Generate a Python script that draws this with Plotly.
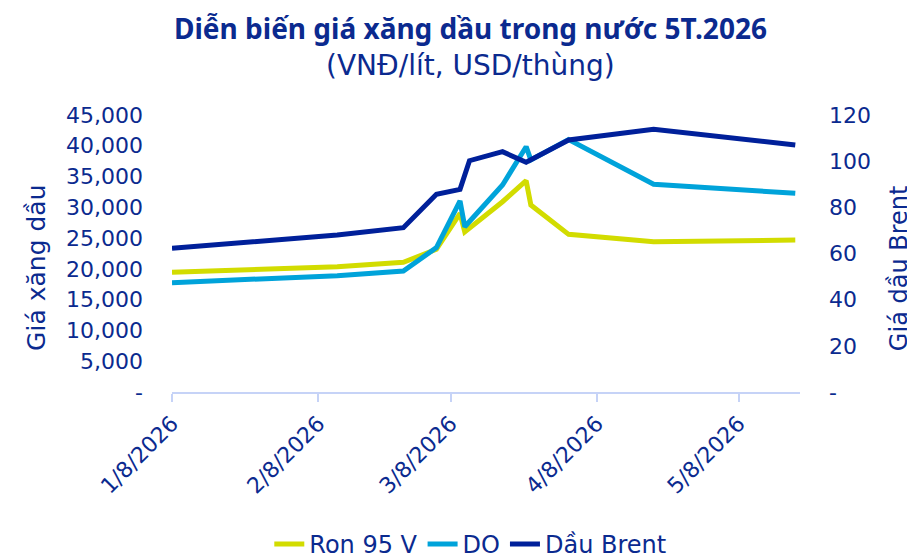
import plotly.graph_objects as go

# ---- data ----
ron_dates = ["2026-01-08", "2026-02-12", "2026-02-26", "2026-03-05", "2026-03-10", "2026-03-11",
             "2026-03-19", "2026-03-24", "2026-03-25", "2026-04-02", "2026-04-20", "2026-05-20"]
ron_values = [19450, 20360, 21070, 23180, 29000, 26000, 30910, 34330, 30380, 25610, 24420, 24690]

do_dates = ["2026-01-08", "2026-02-12", "2026-02-26", "2026-03-05", "2026-03-10", "2026-03-11",
            "2026-03-19", "2026-03-24", "2026-03-25", "2026-04-02", "2026-04-20", "2026-05-20"]
do_values = [17760, 18900, 19660, 23450, 31030, 26850, 33630, 39850, 37700, 41000, 33740, 32280]

brent_dates = ["2026-01-08", "2026-02-12", "2026-02-26", "2026-03-05", "2026-03-10", "2026-03-12",
               "2026-03-19", "2026-03-24", "2026-04-02", "2026-04-20", "2026-05-20"]
brent_values = [62.3, 68.0, 71.2, 85.7, 87.8, 100.2, 104.1, 99.5, 109.2, 113.8, 107.0]

x_tickvals = ["2026-01-08", "2026-02-08", "2026-03-08", "2026-04-08", "2026-05-08"]
x_ticktext = ["1/8/2026", "2/8/2026", "3/8/2026", "4/8/2026", "5/8/2026"]

y_tickvals = [0, 5000, 10000, 15000, 20000, 25000, 30000, 35000, 40000, 45000]
y_ticktext = ["-", "5,000", "10,000", "15,000", "20,000", "25,000", "30,000", "35,000", "40,000", "45,000"]

y2_tickvals = [0, 20, 40, 60, 80, 100, 120]
y2_ticktext = ["-", "20", "40", "60", "80", "100", "120"]

NAVY = "#0B2A8F"
C_RON = "#D2DC00"
C_DO = "#00A3DA"
C_BRENT = "#00209A"
FONT = "DejaVu Sans"
TFONT = "Noto Sans"

fig = go.Figure()
fig.add_trace(go.Scatter(x=ron_dates, y=ron_values, name="Ron 95 V", mode="lines",
                         line=dict(color=C_RON, width=5)))
fig.add_trace(go.Scatter(x=do_dates, y=do_values, name="DO", mode="lines",
                         line=dict(color=C_DO, width=5)))
fig.add_trace(go.Scatter(x=brent_dates, y=brent_values, name="Dầu Brent", mode="lines",
                         line=dict(color=C_BRENT, width=5), yaxis="y2"))

fig.update_layout(
    width=907, height=550,
    margin=dict(l=164, r=115, t=107, b=166, autoexpand=False),
    paper_bgcolor="white", plot_bgcolor="white",
    font=dict(family=FONT, color=NAVY, size=20),
    showlegend=True,
    legend=dict(orientation="h", x=0.475, xanchor="center", y=-0.55, yanchor="middle",
                font=dict(size=24, color=NAVY, family=FONT), traceorder="normal"),
    xaxis=dict(type="date", range=["2026-01-08", "2026-05-21"], automargin=False,
               tickvals=x_tickvals, ticktext=x_ticktext, tickangle=-45,
               showgrid=False, zeroline=False,
               showline=True, linecolor="#C6D3F7", linewidth=2,
               ticks="outside", tickcolor="#C6D3F7", ticklen=8, tickwidth=2,
               tickfont=dict(size=22, color=NAVY)),
    yaxis=dict(range=[0, 45000], tickvals=y_tickvals, ticktext=y_ticktext, automargin=False,
               showgrid=False, zeroline=False, showline=False,
               ticklabelstandoff=28, tickfont=dict(size=22, color=NAVY)),
    yaxis2=dict(range=[0, 120], tickvals=y2_tickvals, ticktext=y2_ticktext, automargin=False,
                overlaying="y", side="right",
                showgrid=False, zeroline=False, showline=False,
                ticklabelstandoff=28, tickfont=dict(size=22, color=NAVY)),
    annotations=[
        dict(text="<b>Diễn biến giá xăng dầu trong nước 5T.2026</b>", xref="paper", yref="paper",
             x=0.475, y=1.314, xanchor="center", yanchor="middle", showarrow=False,
             font=dict(size=28, color=NAVY, family=TFONT)),
        dict(text="(VNĐ/lít, USD/thùng)", xref="paper", yref="paper",
             x=0.475, y=1.177, xanchor="center", yanchor="middle", showarrow=False,
             font=dict(size=28, color=NAVY, family=FONT)),
        dict(text="Giá xăng dầu", xref="paper", yref="paper", textangle=-90,
             x=-0.215, y=0.448, xanchor="center", yanchor="middle", showarrow=False,
             font=dict(size=25, color=NAVY, family=FONT)),
        dict(text="Giá dầu Brent", xref="paper", yref="paper", textangle=-90,
             x=1.158, y=0.448, xanchor="center", yanchor="middle", showarrow=False,
             font=dict(size=24, color=NAVY, family=FONT)),
    ],
)

fig.write_html("out.html")
